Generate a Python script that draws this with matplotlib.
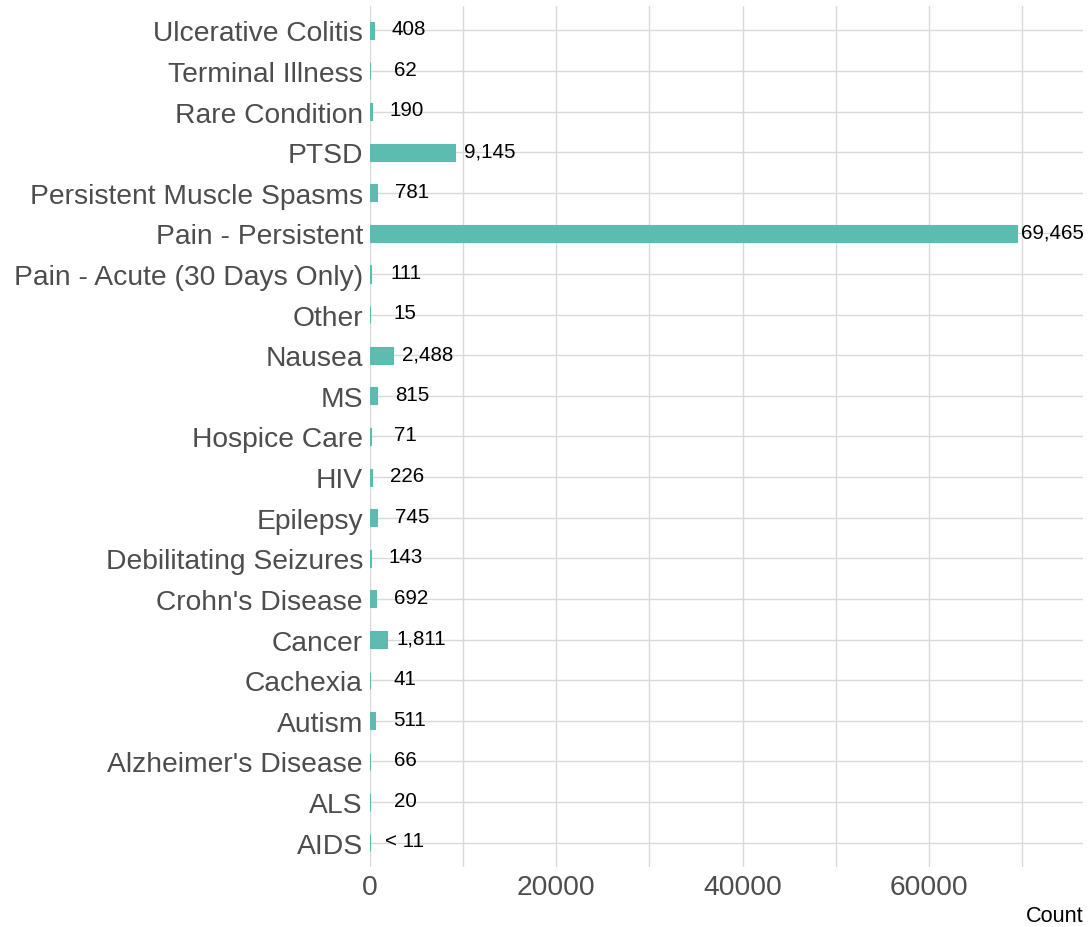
import numpy as np
import matplotlib.pyplot as plt
from matplotlib.ticker import MultipleLocator

plt.rcParams['font.family'] = ['Liberation Sans', 'DejaVu Sans']

# Données (de bas en haut)
conditions = ["AIDS", "ALS", "Alzheimer's Disease", "Autism", "Cachexia", "Cancer",
              "Crohn's Disease", "Debilitating Seizures", "Epilepsy", "HIV",
              "Hospice Care", "MS", "Nausea", "Other", "Pain - Acute (30 Days Only)",
              "Pain - Persistent", "Persistent Muscle Spasms", "PTSD", "Rare Condition",
              "Terminal Illness", "Ulcerative Colitis"]
counts = [5, 20, 66, 511, 41, 1811, 692, 143, 745, 226, 71, 815, 2488, 15, 111,
          69465, 781, 9145, 190, 62, 408]
labels = ["< 11", "20", "66", "511", "41", "1,811", "692", "143", "745", "226", "71",
          "815", "2,488", "15", "111", "69,465", "781", "9,145", "190", "62", "408"]

fig = plt.figure(figsize=(10.91, 9.28), dpi=100)
ax = fig.add_axes([0.339, 0.0647, 0.6537, 0.9278])

y = np.arange(len(conditions))
ax.barh(y, counts, height=0.42, color='#5bbcaf', edgecolor='#5bbcaf',
        linewidth=0.8, zorder=2)

# Etiquettes de valeurs
for yi, c, lab in zip(y, counts, labels):
    ax.text(c + 3750, yi + 0.04, lab, ha='center', va='center', fontsize=14.8,
            color='black', zorder=3)

ax.set_xlim(0, 76550)
ax.set_ylim(-0.6, len(conditions) - 0.4)
ax.set_yticks(y)
ax.set_yticklabels(conditions)
ax.xaxis.set_major_locator(MultipleLocator(20000))
ax.xaxis.set_minor_locator(MultipleLocator(10000))

ax.grid(True, which='both', color='#d9d9d9', linewidth=1.0, zorder=0)
ax.set_axisbelow(True)
for s in ax.spines.values():
    s.set_visible(False)
ax.tick_params(axis='both', which='both', length=0, labelcolor='#4d4d4d', labelsize=20.3)
ax.tick_params(axis='y', pad=5)
ax.tick_params(axis='x', pad=5)

ax.set_xlabel('Count', fontsize=15.6, color='black', loc='right', labelpad=4)

fig.savefig('out.png', dpi=100)
